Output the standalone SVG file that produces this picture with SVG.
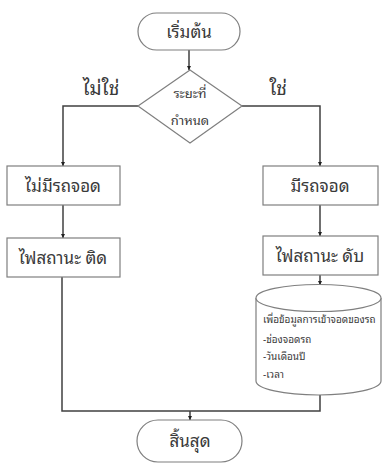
<svg xmlns="http://www.w3.org/2000/svg" width="382" height="464" viewBox="0 0 382 464">
<style>
.n{fill:#fff;stroke:#7f7f7f;stroke-width:1.2}
.c{fill:none;stroke:#404040;stroke-width:1.5}
text{font-family:"Noto Sans Thai Looped","Noto Sans Thai","Noto Sans","DejaVu Sans",sans-serif;fill:#3a3a3a}
.t{font-size:17px;text-anchor:middle}
.l{font-size:19px;text-anchor:middle}
.s{font-size:13px;text-anchor:middle}
.d{font-size:10px}
</style>
<defs>
<marker id="a" viewBox="0 0 6 6" refX="6" refY="3" markerWidth="4" markerHeight="4" orient="auto" markerUnits="userSpaceOnUse">
<path d="M0,0L6,3L0,6z" fill="#202020"/>
</marker>
</defs>
<rect width="382" height="464" fill="#fff"/>
<g id="connectors">
<line class="c" x1="189" y1="50" x2="189" y2="70" marker-end="url(#a)"/>
<polyline class="c" points="138,106 63,106 63,166" marker-end="url(#a)"/>
<polyline class="c" points="242,106 320,106 320,166" marker-end="url(#a)"/>
<line class="c" x1="63" y1="205" x2="63" y2="238" marker-end="url(#a)"/>
<line class="c" x1="320" y1="205" x2="320" y2="236" marker-end="url(#a)"/>
<line class="c" x1="320" y1="275" x2="320" y2="285" marker-end="url(#a)"/>
<polyline class="c" points="62,277 62,411 320,411 320,395"/>
<line class="c" x1="190" y1="411" x2="190" y2="420" marker-end="url(#a)"/>
<text class="l" x="101" y="95">ไม่ใช่</text>
<text class="l" x="278" y="95">ใช่</text>
</g>
<g id="start">
<rect class="n" x="138" y="13" width="102" height="37" rx="18.5"/>
<text class="t" x="189" y="38">เริ่มต้น</text>
</g>
<g id="decision">
<polygon class="n" points="190,70 242,106 190,143 138,106"/>
<text class="s" x="190" y="98">ระยะที่</text>
<text class="s" x="190" y="125">กำหนด</text>
</g>
<g id="no-car">
<rect class="n" x="7" y="166" width="113" height="39"/>
<text class="t" x="63" y="192">ไม่มีรถจอด</text>
</g>
<g id="light-on">
<rect class="n" x="7" y="238" width="113" height="39"/>
<text class="t" x="63" y="264">ไฟสถานะ ติด</text>
</g>
<g id="has-car">
<rect class="n" x="263" y="166" width="115" height="39"/>
<text class="t" x="320" y="192">มีรถจอด</text>
</g>
<g id="light-off">
<rect class="n" x="263" y="236" width="115" height="39"/>
<text class="t" x="320" y="262">ไฟสถานะ ดับ</text>
</g>
<g id="database">
<path class="n" d="M256,298 L256,381 A62.5,14 0 0 0 381,381 L381,298 A62.5,13.5 0 0 0 256,298 Z"/>
<path class="n" d="M256,298 A62.5,13.5 0 0 0 381,298"/>
<text class="d" x="263" y="323">เพื่อข้อมูลการเข้าจอดของรถ</text>
<text class="d" x="263" y="343">-ช่องจอดรถ</text>
<text class="d" x="263" y="360">-วันเดือนปี</text>
<text class="d" x="263" y="378">-เวลา</text>
</g>
<g id="end">
<rect class="n" x="137" y="420" width="105" height="42" rx="21"/>
<text class="t" x="190" y="447">สิ้นสุด</text>
</g>
</svg>
